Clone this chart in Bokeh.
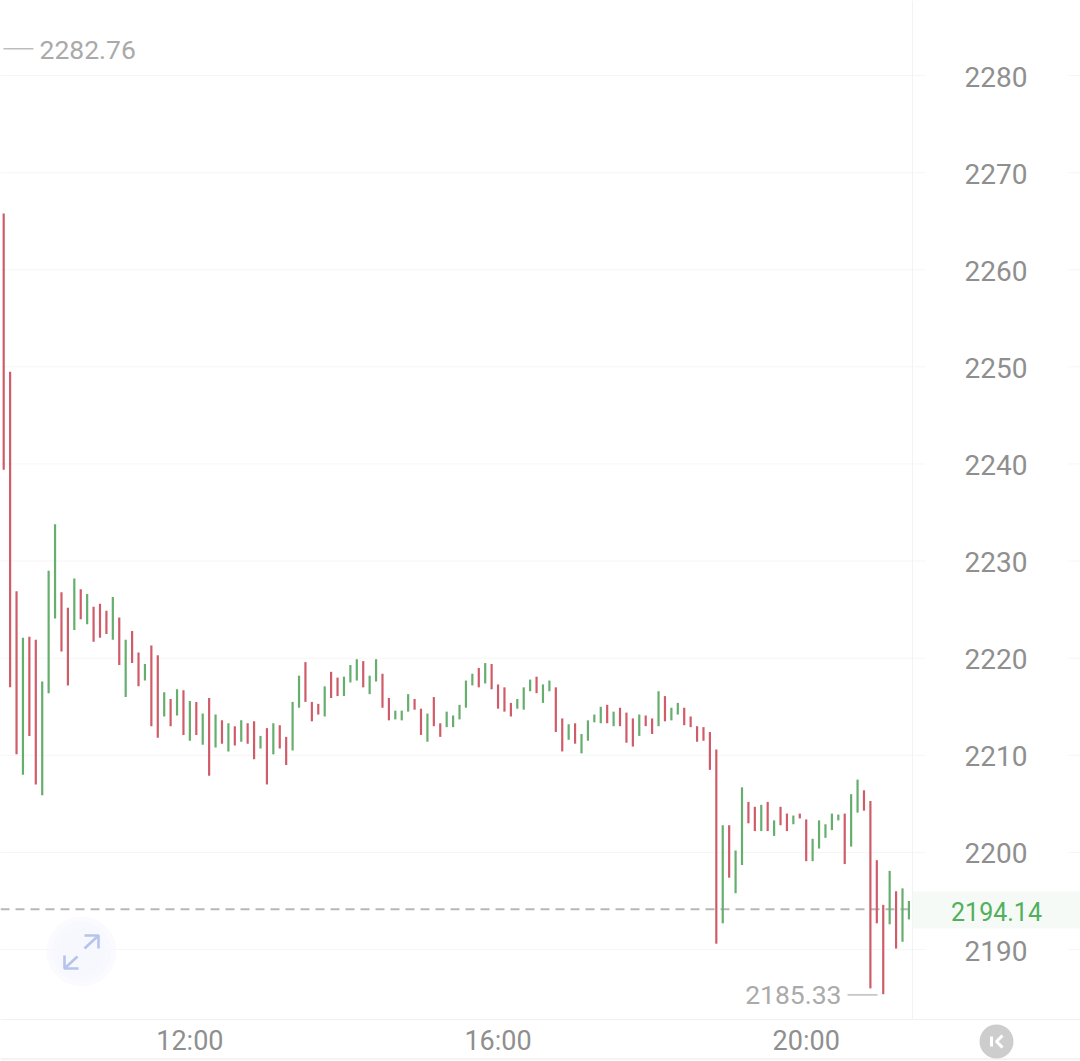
from bokeh.embed import file_html
from bokeh.resources import INLINE
from bokeh.plotting import figure
from bokeh.models import Range1d, LinearAxis, FixedTicker, ColumnDataSource
from bokeh.core.properties import value

FONT = "Roboto"
RED = "#cf5c68"
GREEN = "#65ae6e"

# 5-minute bars, first one at 09:35
START_MINUTE = 575
HIGHS = [
    2265.8, 2249.5, 2226.9, 2222.1, 2222.2, 2221.9, 2217.6, 2229.0, 2233.8, 2226.8,
    2225.2, 2228.2, 2227.1, 2226.6, 2225.3, 2225.6, 2224.9, 2226.3, 2224.2, 2221.9,
    2222.8, 2220.6, 2219.4, 2221.3, 2220.3, 2216.5, 2215.8, 2216.8, 2216.7, 2215.6,
    2215.5, 2214.3, 2215.9, 2214.2, 2213.6, 2213.3, 2213.0, 2213.6, 2213.3, 2213.5,
    2212.0, 2212.8, 2213.3, 2213.1, 2211.9, 2215.5, 2218.2, 2219.6, 2215.5, 2215.3,
    2217.1, 2218.6, 2218.0, 2218.1, 2219.3, 2219.9, 2219.7, 2218.2, 2219.9, 2218.4,
    2215.9, 2214.6, 2214.6, 2216.3, 2215.8, 2214.8, 2214.3, 2216.0, 2213.3, 2214.5,
    2214.1, 2215.2, 2217.7, 2218.4, 2219.0, 2219.5, 2219.4, 2217.3, 2217.0, 2215.4,
    2215.8, 2217.0, 2217.8, 2218.1, 2217.3, 2217.7, 2217.0, 2213.8, 2213.2, 2213.3,
    2212.2, 2213.6, 2214.2, 2215.0, 2215.2, 2214.5, 2214.9, 2214.4, 2213.8, 2214.2,
    2214.1, 2213.8, 2216.6, 2216.1, 2214.9, 2215.4, 2214.9, 2214.0, 2213.0, 2212.9,
    2212.4, 2210.6, 2202.8, 2202.8, 2200.2, 2206.7, 2205.2, 2204.7, 2204.9, 2205.2,
    2203.3, 2204.7, 2204.0, 2203.8, 2204.0, 2203.4, 2201.4, 2203.3, 2202.9, 2204.0,
    2203.9, 2204.0, 2206.0, 2207.5, 2206.4, 2205.3, 2199.2, 2194.6, 2198.1, 2196.0,
    2196.3, 2195.0,
]
LOWS = [
    2239.4, 2217.0, 2210.1, 2208.0, 2212.0, 2207.0, 2205.9, 2216.4, 2224.1, 2220.7,
    2217.2, 2222.9, 2224.0, 2223.5, 2221.7, 2222.1, 2222.5, 2221.9, 2219.3, 2216.0,
    2219.5, 2217.1, 2217.7, 2213.0, 2211.8, 2214.0, 2213.0, 2214.1, 2212.1, 2211.5,
    2212.1, 2211.1, 2207.9, 2210.8, 2211.2, 2210.4, 2211.0, 2211.4, 2211.2, 2209.6,
    2210.7, 2207.0, 2210.1, 2210.7, 2209.0, 2210.5, 2214.9, 2215.5, 2213.5, 2214.2,
    2214.0, 2215.9, 2216.1, 2216.1, 2217.5, 2217.7, 2217.0, 2216.3, 2217.6, 2214.9,
    2213.6, 2213.7, 2213.6, 2214.5, 2214.7, 2212.1, 2211.4, 2213.0, 2211.9, 2212.9,
    2212.9, 2213.7, 2214.9, 2217.2, 2217.0, 2217.4, 2216.8, 2214.8, 2214.5, 2214.0,
    2214.8, 2214.7, 2216.6, 2216.4, 2215.4, 2216.6, 2212.4, 2210.4, 2211.6, 2211.2,
    2210.2, 2211.5, 2213.4, 2213.3, 2213.3, 2213.0, 2213.0, 2211.3, 2210.9, 2212.0,
    2213.0, 2212.2, 2213.0, 2213.5, 2213.6, 2214.2, 2213.1, 2212.9, 2211.4, 2211.5,
    2208.5, 2190.6, 2192.7, 2197.4, 2195.8, 2198.7, 2203.0, 2202.2, 2202.2, 2202.2,
    2201.7, 2202.8, 2202.2, 2202.9, 2203.5, 2199.1, 2199.1, 2200.4, 2201.5, 2202.3,
    2203.3, 2198.8, 2200.6, 2204.1, 2204.3, 2186.0, 2192.7, 2185.4, 2192.6, 2190.1,
    2190.8, 2193.1,
]
SIDES = (
    "rrrgrrgggrrgrgrrrgrgrrgrrgrgrgrgrgrgrgrrgrgrrggrrrgrrgggrggrr"
    "gggrrgrrgggggrgrrrrgggrgg"
    "rrgrggggrgrrrgrrgrgg"
    "rrrrrrgrggrrgrgrrgrrgggggrggrrrrgrgg"
)

PRICE_TICKS = [2190, 2200, 2210, 2220, 2230, 2240, 2250, 2260, 2270, 2280]
TIME_TICKS = {720: "12:00", 960: "16:00", 1200: "20:00"}
LAST_PRICE = 2194.14
MAX_LABEL = 2282.76
MIN_LABEL = 2185.33

minutes = [START_MINUTE + 5 * i for i in range(len(HIGHS))]

X0, X1 = 572.51, 1413.63
Y0, Y1 = 2178.47, 2287.73

p = figure(width=1080, height=1061, x_range=Range1d(X0, X1), y_range=Range1d(Y0, Y1),
           x_axis_type=None, y_axis_type=None, toolbar_location=None,
           output_backend="svg", min_border=0, outline_line_color=None,
           background_fill_color="#ffffff", border_fill_color="#ffffff")
p.grid.visible = False

# a second pair of ranges, in page pixels, for the chart's furniture
p.extra_x_ranges["px"] = Range1d(0, 1080)
p.extra_y_ranges["px"] = Range1d(1061, 0)
p.extra_y_ranges["labels"] = Range1d(Y0 + 0.1, Y1 + 0.1)
PX = dict(x_range_name="px", y_range_name="px")

# price band behind the last-price label
p.quad(left=[912], right=[1080], top=[891], bottom=[928], fill_color="#f5faf6",
       line_color=None, **PX)

# grid lines, broken around the price labels
GRID = "#f6f6f6"
for a, b in ((X0, X0 + 925 / 1.284), (X0 + 1068 / 1.284, X1)):
    p.segment(x0=[a] * len(PRICE_TICKS), x1=[b] * len(PRICE_TICKS), y0=PRICE_TICKS, y1=PRICE_TICKS,
              line_color=GRID, line_width=1)

# frame lines
p.segment(x0=[912, 0, 0], x1=[912, 1080, 1080], y0=[0, 1019, 1058.5], y1=[1019, 1019, 1058.5],
          line_color=["#f3f3f3", "#f1f1f1", "#f3f3f3"], line_width=[1, 1, 2], **PX)

# last price dashed line
p.segment(x0=[0], x1=[912], y0=[LAST_PRICE], y1=[LAST_PRICE], line_color="#b8b8b8",
          line_width=2, line_dash="9 6", x_range_name="px")

# bars
src = ColumnDataSource(dict(x=minutes, hi=HIGHS, lo=LOWS,
                            c=[RED if s == "r" else GREEN for s in SIDES]))
p.segment(x0="x", x1="x", y0="hi", y1="lo", line_color="c", line_width=2.2,
          line_cap="butt", source=src)

# max / min markers
p.segment(x0=[3, 847], x1=[33, 877], y0=[MAX_LABEL, MIN_LABEL], y1=[MAX_LABEL, MIN_LABEL],
          line_color="#bdbdbd", line_width=1.5, x_range_name="px")
p.text(x=[39], y=[MAX_LABEL], text=[f"{MAX_LABEL:.2f}"], x_range_name="px",
       text_font=value(FONT), text_font_size="26.5px", text_color="#aaaaaa",
       text_baseline="middle", text_align="left", y_offset=1)
p.text(x=[841], y=[MIN_LABEL], text=[f"{MIN_LABEL:.2f}"], x_range_name="px",
       text_font=value(FONT), text_font_size="26.5px", text_color="#aaaaaa",
       text_baseline="middle", text_align="right")

# last price label
p.text(x=[996], y=[LAST_PRICE], text=[f"{LAST_PRICE:.2f}"], x_range_name="px",
       text_font=value(FONT), text_font_size="25px", text_color="#52b05c",
       text_baseline="middle", text_align="center", y_offset=2)

# expand button
for r, col, al in ((35, "#f8f9ff", 0.6), (30, "#f6f8fe", 0.7), (24, "#f5f7fd", 0.8)):
    p.scatter(x=[81], y=[951], size=[2 * r], marker="circle", fill_color=col, fill_alpha=al,
              line_color=None, **PX)
p.multi_line(xs=[[84, 98], [84, 98, 98], [77, 64], [64, 64, 78]],
             ys=[[948, 935], [935, 935, 948], [956, 968], [955, 968, 968]],
             line_color="#b6c4ec", line_width=2.6, **PX)

# jump-to-latest button
p.scatter(x=[996], y=[1041], size=[34], marker="circle", fill_color="#cdcdcd", line_color=None, **PX)
p.multi_line(xs=[[991, 991], [1002, 996, 1002]], ys=[[1036, 1046], [1035, 1041, 1047]],
             line_color="#ffffff", line_width=3, **PX)

# axes
price_axis = LinearAxis(ticker=FixedTicker(ticks=PRICE_TICKS), fixed_location=X0 + 940 / 1.284,
                        y_range_name="labels")
price_axis.axis_line_color = None
price_axis.major_tick_line_color = None
price_axis.minor_tick_line_color = None
price_axis.major_label_standoff = 18
price_axis.major_label_text_font = FONT
price_axis.major_label_text_font_size = "28px"
price_axis.major_label_text_color = "#8f8f8f"
p.add_layout(price_axis, "right")

time_axis = LinearAxis(ticker=FixedTicker(ticks=list(TIME_TICKS)), fixed_location=Y0 + (1061 - 1019) / 9.71,
                       major_label_overrides=TIME_TICKS)
time_axis.axis_line_color = None
time_axis.major_tick_line_color = None
time_axis.minor_tick_line_color = None
time_axis.major_label_standoff = 0
time_axis.major_label_text_font = FONT
time_axis.major_label_text_font_size = "27px"
time_axis.major_label_text_color = "#8f8f8f"
p.add_layout(time_axis, "below")

open("out.html", "w").write(file_html(p, INLINE))
